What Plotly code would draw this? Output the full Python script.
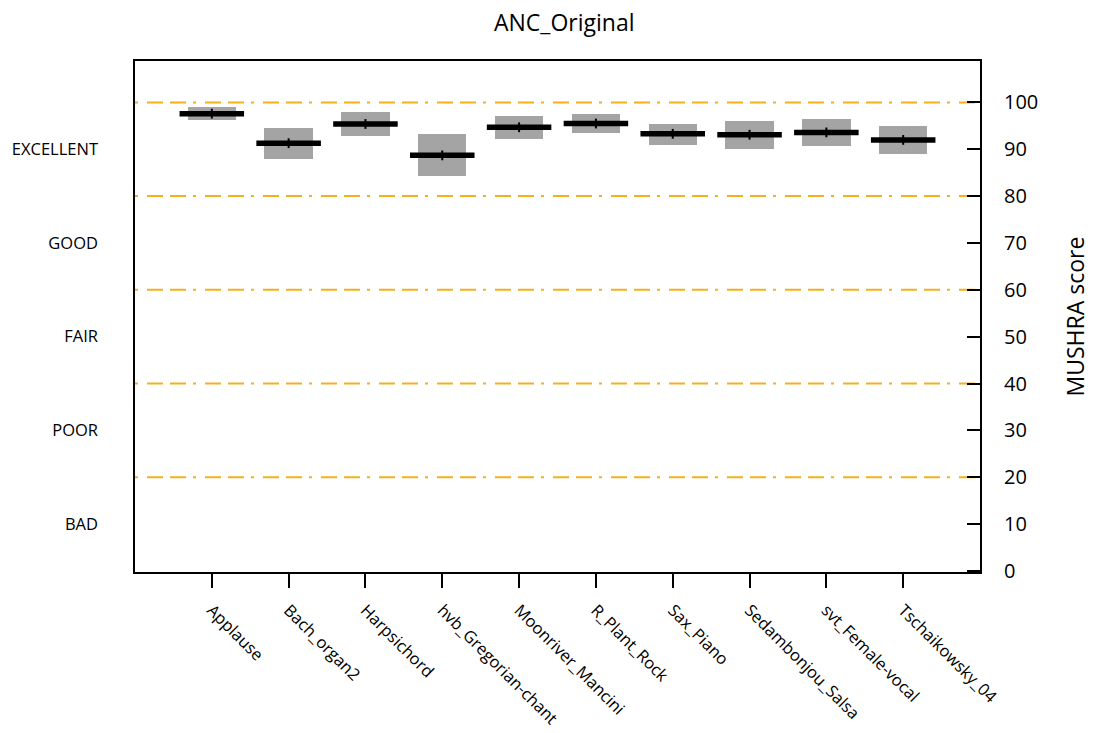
import plotly.graph_objects as go

categories = ["Applause", "Bach_organ2", "Harpsichord", "hvb_Gregorian-chant",
              "Moonriver_Mancini", "R_Plant_Rock", "Sax_Piano", "Sedambonjou_Salsa",
              "svt_Female-vocal", "Tschaikowsky_04"]
box_top = [99.1, 94.5, 97.9, 93.2, 97.2, 97.6, 95.5, 96.0, 96.4, 95.0]
box_bottom = [96.2, 88.0, 92.9, 84.2, 92.2, 93.5, 90.9, 90.1, 90.6, 89.0]
medians = [97.6, 91.3, 95.4, 88.7, 94.7, 95.5, 93.3, 93.1, 93.6, 92.0]
grade_levels = [100, 80, 60, 40, 20]
grade_labels = ["EXCELLENT", "GOOD", "FAIR", "POOR", "BAD"]
grade_label_pos = [90, 70, 50, 30, 10]
score_ticks = [0, 10, 20, 30, 40, 50, 60, 70, 80, 90, 100]

xpos = list(range(1, len(categories) + 1))
FONT = "Open Sans"
YR = [-0.23, 108.84]

fig = go.Figure()

fig.add_trace(go.Bar(
    x=xpos, y=[t - b for t, b in zip(box_top, box_bottom)], base=box_bottom,
    width=0.63, marker=dict(color="#a4a4a4", line=dict(width=0)),
    showlegend=False, hoverinfo="skip"))

mx, my = [], []
for x, m in zip(xpos, medians):
    mx += [x - 0.42, x + 0.42, None]
    my += [m, m, None]
fig.add_trace(go.Scatter(x=mx, y=my, mode="lines",
                         line=dict(color="black", width=5.5),
                         showlegend=False, hoverinfo="skip"))
fig.add_trace(go.Scatter(x=xpos, y=medians, mode="markers",
                         marker=dict(symbol="line-ns-open", size=7, color="black",
                                     line=dict(color="black", width=2)),
                         showlegend=False, hoverinfo="skip"))

for g in grade_levels:
    fig.add_trace(go.Scatter(x=[0, 11], y=[g, g], mode="lines",
                             line=dict(color="#f5b01e", width=2,
                                       dash="3px,9px,16px,7px,16px,7px"),
                             showlegend=False, hoverinfo="skip"))

# invisible trace for the left grade axis
fig.add_trace(go.Scatter(x=[None], y=[None], yaxis="y2", showlegend=False))

fig.update_layout(
    width=1096, height=733,
    margin=dict(l=135, r=116, t=61, b=161),
    paper_bgcolor="white", plot_bgcolor="white",
    font=dict(family=FONT, color="black"),
    title=dict(text="ANC_Original", x=0.508, xref="paper", xanchor="center",
               y=0.969, yref="container", yanchor="middle",
               font=dict(size=23, family=FONT)),
    xaxis=dict(range=[0, 11], tickvals=xpos, ticktext=categories,
               tickangle=45, ticks="outside", ticklen=14, tickwidth=2,
               tickcolor="black", showline=True, linecolor="black", linewidth=2,
               mirror=True, showgrid=False, zeroline=False, automargin=False,
               tickfont=dict(size=16.5, family=FONT), ticklabelstandoff=6),
    yaxis=dict(range=YR, side="right", tickvals=score_ticks,
               ticks="inside", ticklen=13, tickwidth=2, tickcolor="black",
               showline=True, linecolor="black", linewidth=2, mirror=True,
               showgrid=False, zeroline=False, automargin=False,
               tickfont=dict(size=20, family=FONT), ticklabelstandoff=18,
               title=dict(text="MUSHRA score", font=dict(size=23, family=FONT),
                          standoff=31)),
    yaxis2=dict(range=YR, overlaying="y", side="left", tickvals=grade_label_pos,
                ticktext=grade_labels, ticks="", showline=False, showgrid=False,
                zeroline=False, automargin=False,
                tickfont=dict(size=16.5, family=FONT),
                ticklabelstandoff=36),
    bargap=0,
)

fig.write_html("out.html")
